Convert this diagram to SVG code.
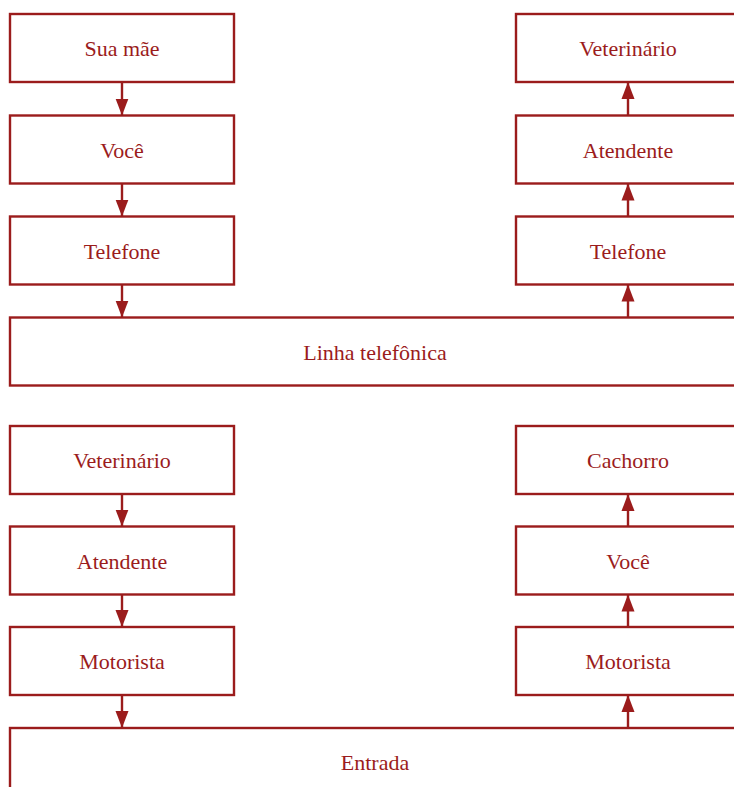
<svg xmlns="http://www.w3.org/2000/svg" width="734" height="787" viewBox="0 0 734 787">
<style>
.box{fill:#ffffff;stroke:#9b1c1c;stroke-width:2.4}
.lbl{font-family:"Liberation Serif","DejaVu Serif",serif;font-size:22px;fill:#9b1c1c;text-anchor:middle}
.conn{stroke:#9b1c1c;stroke-width:2.4;fill:none;marker-end:url(#ah)}
</style>
<defs>
<marker id="ah" markerUnits="userSpaceOnUse" markerWidth="17" markerHeight="14" viewBox="0 0 17 14" refX="17" refY="7" orient="auto">
<path d="M0,0.5 L17,7 L0,13.5 Z" fill="#9b1c1c"/>
</marker>
</defs>
<rect width="734" height="787" fill="#ffffff"/>
<g id="n1"><rect class="box" x="10" y="14" width="224" height="68"/><text class="lbl" x="122" y="56">Sua mãe</text></g>
<g id="n2"><rect class="box" x="10" y="115.5" width="224" height="68"/><text class="lbl" x="122" y="157.5">Você</text></g>
<g id="n3"><rect class="box" x="10" y="216.5" width="224" height="68"/><text class="lbl" x="122" y="258.5">Telefone</text></g>
<g id="n4"><rect class="box" x="516" y="14" width="224" height="68"/><text class="lbl" x="628" y="56">Veterinário</text></g>
<g id="n5"><rect class="box" x="516" y="115.5" width="224" height="68"/><text class="lbl" x="628" y="157.5">Atendente</text></g>
<g id="n6"><rect class="box" x="516" y="216.5" width="224" height="68"/><text class="lbl" x="628" y="258.5">Telefone</text></g>
<g id="n7"><rect class="box" x="10" y="317.5" width="730" height="68"/><text class="lbl" x="375" y="359.5">Linha telefônica</text></g>
<g id="n8"><rect class="box" x="10" y="426" width="224" height="68"/><text class="lbl" x="122" y="468">Veterinário</text></g>
<g id="n9"><rect class="box" x="10" y="526.5" width="224" height="68"/><text class="lbl" x="122" y="568.5">Atendente</text></g>
<g id="n10"><rect class="box" x="10" y="627" width="224" height="68"/><text class="lbl" x="122" y="669">Motorista</text></g>
<g id="n11"><rect class="box" x="516" y="426" width="224" height="68"/><text class="lbl" x="628" y="468">Cachorro</text></g>
<g id="n12"><rect class="box" x="516" y="526.5" width="224" height="68"/><text class="lbl" x="628" y="568.5">Você</text></g>
<g id="n13"><rect class="box" x="516" y="627" width="224" height="68"/><text class="lbl" x="628" y="669">Motorista</text></g>
<g id="n14"><rect class="box" x="10" y="728" width="730" height="68"/><text class="lbl" x="375" y="770">Entrada</text></g>
<g id="connectors">
<path class="conn" d="M122,82 V115.5"/>
<path class="conn" d="M122,183.5 V216.5"/>
<path class="conn" d="M122,284.5 V317.5"/>
<path class="conn" d="M628,317.5 V284.5"/>
<path class="conn" d="M628,216.5 V183.5"/>
<path class="conn" d="M628,115.5 V82"/>
<path class="conn" d="M122,494 V526.5"/>
<path class="conn" d="M122,594.5 V627"/>
<path class="conn" d="M122,695 V728"/>
<path class="conn" d="M628,728 V695"/>
<path class="conn" d="M628,627 V594.5"/>
<path class="conn" d="M628,526.5 V494"/>
</g>
</svg>
